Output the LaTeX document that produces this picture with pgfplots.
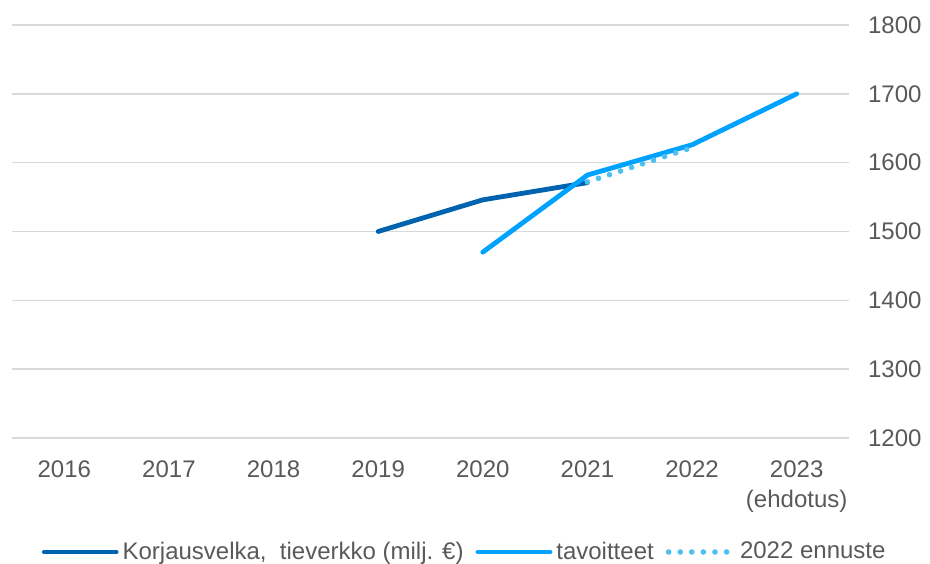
\documentclass[border=0pt]{standalone}
\usepackage{pgfplots}
\pgfplotsset{compat=1.18}
\usepackage{fontspec}
\setmainfont{Liberation Sans}
\definecolor{darkblue}{HTML}{0063AF}
\definecolor{lightblue}{HTML}{00A2FF}
\definecolor{dotblue}{HTML}{4DC0F0}
\definecolor{txt}{HTML}{595959}
\definecolor{gridc}{HTML}{D9D9D9}
\pgfplotsset{dotlegend/.style={legend image code/.code={\draw[##1] (2pt,0pt) -- (31pt,0pt);}}}
\begin{document}
\begin{tikzpicture}
\useasboundingbox (0,0) rectangle (465pt,281.5pt);
\begin{axis}[
  at={(6pt,62.5pt)}, anchor=south west,
  scale only axis, width=418.5pt, height=206.5pt,
  xmin=-0.5, xmax=7.5, ymin=1200, ymax=1800,
  axis line style={draw=none},
  ytick={1200,1300,...,1800},
  xtick={0,...,7},
  xticklabels={2016,2017,2018,2019,2020,2021,2022,{2023\\(ehdotus)}},
  xticklabel style={align=center, font=\fontsize{12}{15}\selectfont, text=txt},
  yticklabel style={font=\fontsize{12}{15}\selectfont, text=txt, anchor=west},
  yticklabel pos=right,
  /pgf/number format/assume math mode=true,
  /pgf/number format/1000 sep={},
  tick style={draw=none},
  ymajorgrids=true, xmajorgrids=false,
  y grid style={draw=gridc, line width=0.75pt},
  xtick pos=bottom,
  xticklabel shift=8pt,
  yticklabel shift=6pt,
  legend columns=3,
  legend style={draw=none, fill=none, at={(0.542,-0.276)}, anchor=center,
    font=\fontsize{12}{15}\selectfont, text=txt,
    /tikz/every even column/.append style={column sep=4pt}},
  legend cell align=left,
  legend image code/.code={\draw[#1] (0pt,0pt) -- (36pt,0pt);},
  clip=false,
]
\addplot[darkblue, line width=2.4pt, line cap=round] coordinates {(3,1500) (4,1546) (5,1571)};
\addlegendentry{Korjausvelka,\ \ tieverkko (milj. €)}
\addplot[lightblue, line width=2.4pt, line cap=round] coordinates {(4,1470) (5,1582) (6,1626) (7,1700)};
\addlegendentry{tavoitteet}
\addplot[dotblue, line width=2.8pt, line cap=round, dash pattern=on 0pt off 5.8pt, dotlegend] coordinates {(5,1572) (6,1622)};
\addlegendentry{\ 2022 ennuste}
\end{axis}
\end{tikzpicture}
\end{document}
